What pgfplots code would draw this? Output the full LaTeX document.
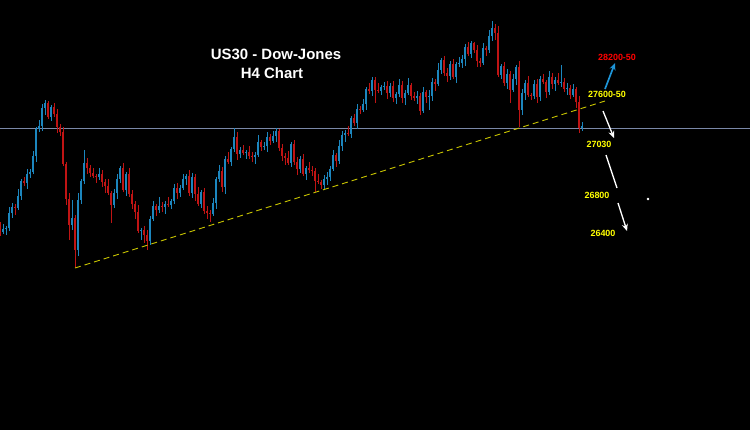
\documentclass[border=0pt]{standalone}
\usepackage{fontspec}
\setmainfont{Liberation Sans}
\usepackage{pgfplots}
\usepackage{pgfplotstable}
\pgfplotsset{compat=1.18}
\usetikzlibrary{arrows.meta}
\definecolor{candleup}{HTML}{1C86BE}
\definecolor{candledn}{HTML}{C01414}
\definecolor{hline}{HTML}{7A88A8}
\definecolor{trend}{HTML}{C8C400}
\definecolor{arrowblue}{HTML}{1E95D8}
\definecolor{lblyellow}{HTML}{FFFF00}

% H4 candles, screen coordinates (y grows downward): x open close high low
\pgfplotstableread{
x o c h l
0 225 232 222 236
3 232 229 224 234
6 229 228 226 235
9 228 213 207 231
12 213 207 203 218
15 207 208 204 215
18 208 196 189 210
21 196 181 179 200
24 181 183 177 186
27 183 174 169 189
30 174 172 169 178
33 172 156 151 174
36 156 129 127 162
39 129 126 120 132
42 126 108 104 131
45 108 103 100 115
48 103 117 101 119
51 117 107 105 121
54 107 114 103 117
57 114 127 109 133
60 127 132 124 136
63 132 164 127 166
66 164 199 162 205
69 199 225 193 240
72 225 218 200 230
75 218 250 215 268
78 250 200 193 256
81 200 181 179 204
84 181 163 150 184
87 163 168 158 174
90 168 173 165 177
93 173 176 168 178
96 176 177 174 183
99 177 174 168 180
102 174 182 170 187
105 182 186 179 193
108 186 193 179 195
111 193 205 191 223
114 205 193 189 208
117 193 179 174 199
120 179 168 166 183
123 168 190 163 192
126 190 174 172 196
129 174 194 168 197
132 194 204 190 209
135 204 212 201 219
138 212 231 205 233
141 231 230 228 240
144 230 235 226 243
147 235 241 230 250
150 241 219 216 245
153 219 206 201 221
156 206 210 204 216
159 210 206 197 213
162 206 207 202 212
165 207 204 201 214
168 204 205 197 207
171 205 201 199 209
174 201 188 184 204
177 188 193 183 199
180 193 188 185 197
183 188 179 174 190
186 179 176 174 185
189 176 193 170 196
192 193 177 173 198
195 177 194 174 201
198 194 204 187 206
201 204 192 190 208
204 192 211 188 214
207 211 213 206 219
210 213 214 210 222
213 214 203 198 216
216 203 179 177 209
219 179 171 165 182
222 171 187 167 192
225 187 159 156 194
228 159 162 152 164
231 162 149 147 166
234 149 137 128 152
237 137 154 132 160
240 154 150 147 158
243 150 153 145 155
246 153 152 150 159
249 152 156 146 159
252 156 157 152 162
255 157 155 152 164
258 155 142 135 157
261 142 147 140 151
264 147 146 142 150
267 146 137 132 152
270 137 141 134 145
273 141 136 131 143
276 136 131 128 142
279 131 148 129 151
282 148 156 144 161
285 156 158 153 165
288 158 163 151 165
291 163 144 142 167
294 144 162 140 165
297 162 169 157 175
300 169 159 156 173
303 159 174 154 176
306 174 168 166 180
309 168 170 162 173
312 170 171 166 176
315 171 181 168 192
318 181 182 174 184
321 182 185 180 189
324 185 179 175 190
327 179 177 172 185
330 177 169 166 181
333 169 155 150 171
336 155 161 153 167
339 161 146 140 164
342 146 135 131 151
345 135 133 130 142
348 133 134 126 136
351 134 118 116 138
354 118 123 114 126
357 123 109 104 129
360 109 110 106 114
363 110 104 99 112
366 104 89 87 110
369 89 91 83 94
372 91 80 77 96
375 80 90 77 103
378 90 91 83 93
381 91 87 85 95
384 87 86 82 90
387 86 93 81 99
390 93 86 83 97
393 86 98 81 102
396 98 94 92 104
399 94 85 79 97
402 85 98 81 103
405 98 93 90 105
408 93 85 78 95
411 85 96 83 100
414 96 98 92 101
417 98 96 91 104
420 96 111 93 115
423 111 92 87 113
426 92 97 90 103
429 97 96 90 110
432 96 82 78 101
435 82 84 79 91
438 84 70 63 86
441 70 60 58 74
444 60 73 56 76
447 73 76 68 82
450 76 64 61 80
453 64 77 59 79
456 77 64 62 83
459 64 63 57 67
462 63 59 55 68
465 59 47 44 66
468 47 54 42 56
471 54 43 41 58
474 43 50 42 53
477 50 61 45 67
480 61 63 58 67
483 63 48 43 65
486 48 50 46 56
489 50 36 30 53
492 36 28 21 41
495 28 33 24 40
498 33 75 26 77
501 75 66 64 79
504 66 83 62 86
507 83 74 69 89
510 74 90 71 103
513 90 79 74 92
516 79 67 65 85
519 67 110 61 127
522 110 93 89 115
525 93 83 80 100
528 83 95 76 97
531 95 96 93 100
534 96 84 80 99
537 84 97 79 103
540 97 79 76 101
543 79 82 74 84
546 82 92 80 98
549 92 77 71 95
552 77 84 73 89
555 84 80 77 91
558 80 83 73 85
561 83 82 65 87
564 82 89 78 92
567 89 88 83 95
570 88 95 85 99
573 95 89 84 97
576 89 102 87 108
579 102 128 96 133
582 128 126 122 131
}\candles

\begin{document}
\begin{tikzpicture}
\begin{axis}[
    width=750bp, height=430bp,
    scale only axis,
    xmin=0, xmax=750, ymin=0, ymax=430,
    y dir=reverse,
    xtick=\empty, ytick=\empty,
    axis line style={draw=none},
    axis background/.style={fill=black},
]
% horizontal level
\addplot[hline, line width=0.8bp] coordinates {(0,128) (750,128)};

% wicks
\addplot[candleup, line width=0.9bp, mark=none,
    quiver={u=0, v={\thisrow{l}-\thisrow{h}}}]
    table[x=x, y expr={\thisrow{c}<\thisrow{o} ? \thisrow{h} : nan}] {\candles};
\addplot[candledn, line width=0.9bp, mark=none,
    quiver={u=0, v={\thisrow{l}-\thisrow{h}}}]
    table[x=x, y expr={\thisrow{c}<\thisrow{o} ? nan : \thisrow{h}}] {\candles};
% bodies
\addplot[candleup, line width=2.5bp, mark=none,
    quiver={u=0, v={max(abs(\thisrow{o}-\thisrow{c}),1.2)}}]
    table[x=x, y expr={\thisrow{c}<\thisrow{o} ? \thisrow{c} : nan}] {\candles};
\addplot[candledn, line width=2.5bp, mark=none,
    quiver={u=0, v={max(abs(\thisrow{o}-\thisrow{c}),1.2)}}]
    table[x=x, y expr={\thisrow{c}<\thisrow{o} ? nan : \thisrow{o}}] {\candles};

% trend line
\addplot[trend, line width=0.9bp, dash pattern=on 6bp off 4bp] coordinates {(75,268) (605,101)};

% projection arrows
\addplot[arrowblue, line width=1.7bp, -{Stealth[length=7bp,width=6bp]}] coordinates {(605,89) (615,63)};
\addplot[white, line width=1.3bp, -{Stealth[length=7bp,width=6bp]}] coordinates {(603,111) (614,138)};
\addplot[white, line width=1.3bp] coordinates {(606,155) (617,188)};
\addplot[white, line width=1.3bp, -{Stealth[length=7bp,width=6bp]}] coordinates {(618,203) (627,231)};
\addplot[white, only marks, mark=*, mark size=1bp] coordinates {(648,199)};

% labels
\node[white, font=\fontsize{15}{17}\selectfont\bfseries] at (axis cs:276,54) {US30 - Dow-Jones};
\node[white, font=\fontsize{15}{17}\selectfont\bfseries] at (axis cs:272,73) {H4 Chart};
\node[red, font=\fontsize{9}{10}\selectfont\bfseries] at (axis cs:617,57) {28200-50};
\node[lblyellow, font=\fontsize{9}{10}\selectfont\bfseries] at (axis cs:607,94) {27600-50};
\node[lblyellow, font=\fontsize{9}{10}\selectfont\bfseries] at (axis cs:599,144) {27030};
\node[lblyellow, font=\fontsize{9}{10}\selectfont\bfseries] at (axis cs:597,195) {26800};
\node[lblyellow, font=\fontsize{9}{10}\selectfont\bfseries] at (axis cs:603,233) {26400};
\end{axis}
\end{tikzpicture}
\end{document}
